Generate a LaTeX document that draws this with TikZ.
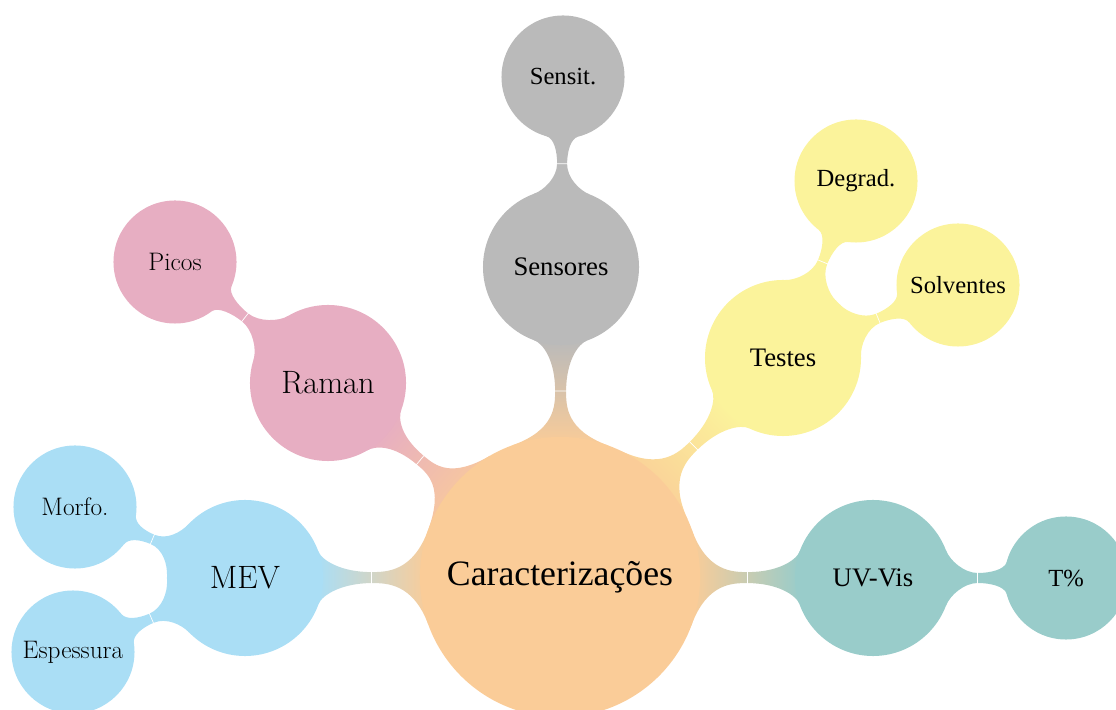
\documentclass[tikz,border=0pt]{standalone}
\usepackage{fontspec}
\setmainfont{Liberation Serif}
\usetikzlibrary{calc}
\pgfdeclarelayer{background}
\pgfsetlayers{background,main}
\definecolor{corange}{RGB}{250,204,152}
\definecolor{cgray}{RGB}{186,186,186}
\definecolor{cpink}{RGB}{231,174,194}
\definecolor{cyellow}{RGB}{251,243,155}
\definecolor{cblue}{RGB}{170,222,245}
\definecolor{cteal}{RGB}{153,204,202}
\newcommand{\lmfont}{\fontfamily{lmr}\selectfont}
% neck parameters (px units): radii, junction angles, control lengths, half width
\def\NrA{78}\def\NrB{61.5}\def\NtA{21}\def\NtB{15}\def\NkA{11}\def\NkB{8}\def\NqA{14}\def\NqB{12}\def\Nw{5}
\newcommand{\neck}[3]{%
  \path[#3] let \p1=(#1.center), \p2=(#2.center),
      \n1={atan2(\y2-\y1,\x2-\x1)},
      \n2={(\NrA*0.7113pt+veclen(\x2-\x1,\y2-\y1)-\NrB*0.7113pt)/2}
    in ([shift={(\n1+\NtA:\NrA)}]#1.center)
      .. controls +(\n1+\NtA-90:\NkA) and +(\n1+180:\NqA) ..
      ([shift={(\n1:\n2)},shift={(\n1+90:\Nw)}]#1.center)
      .. controls +(\n1:\NqB) and +(\n1-90-\NtB:\NkB) ..
      ([shift={(\n1+180-\NtB:\NrB)}]#2.center)
      -- ([shift={(\n1+180+\NtB:\NrB)}]#2.center)
      .. controls +(\n1+90+\NtB:\NkB) and +(\n1:\NqB) ..
      ([shift={(\n1:\n2)},shift={(\n1-90:\Nw)}]#1.center)
      .. controls +(\n1+180:\NqA) and +(\n1-\NtA+90:\NkA) ..
      ([shift={(\n1-\NtA:\NrA)}]#1.center) -- cycle;
  \draw[white, line width=0.5pt] let \p1=(#1.center), \p2=(#2.center),
      \n1={atan2(\y2-\y1,\x2-\x1)},
      \n2={(\NrA*0.7113pt+veclen(\x2-\x1,\y2-\y1)-\NrB*0.7113pt)/2}
    in ([shift={(\n1:\n2)},shift={(\n1+90:\Nw+2)}]#1.center)
      -- ([shift={(\n1:\n2)},shift={(\n1-90:\Nw+2)}]#1.center);
}
\begin{document}
\begin{tikzpicture}[x=0.025cm,y=0.025cm,
  bubble/.style={circle, inner sep=0pt, align=center, text=black},
  rootc/.style={bubble, minimum size=7cm, text width=6.4cm,
    font=\fontsize{25.4}{28}\selectfont},
  lvone/.style={bubble, minimum size=3.9cm, text width=3.4cm,
    font=\fontsize{19}{22}\selectfont},
  lvtwo/.style={bubble, minimum size=3.075cm, text width=2.6cm,
    font=\fontsize{17.5}{20}\selectfont},
  fone/.style={font=\lmfont\fontsize{23}{26}\selectfont},
  ftwo/.style={font=\lmfont\fontsize{18}{21}\selectfont},
]
\useasboundingbox (0,0) rectangle (1116,709);
\node[rootc, fill=corange] (root) at (560,132) {Caracterizações};
\node[lvone, fill=cgray] (sens) at (561,442) {Sensores};
\node[lvtwo, fill=cgray] (sensit) at (563,632) {Sensit.};
\node[lvone, fill=cpink, fone] (raman) at (328,326) {Raman};
\node[lvtwo, fill=cpink, ftwo] (picos) at (175,447) {Picos};
\node[lvone, fill=cyellow] (testes) at (783,351) {Testes};
\node[lvtwo, fill=cyellow] (degrad) at (856,528) {Degrad.};
\node[lvtwo, fill=cyellow] (solv) at (958,424) {Solventes};
\node[lvone, fill=cteal] (uv) at (873,131) {UV-Vis};
\node[lvtwo, fill=cteal] (tp) at (1066,131) {T\%};
\node[lvone, fill=cblue, fone] (mev) at (245,131) {MEV};
\node[lvtwo, fill=cblue, ftwo] (morfo) at (75,202) {Morfo.};
\node[lvtwo, fill=cblue, ftwo] (esp) at (73,57) {Espessura};
\begin{pgfonlayer}{background}
\neck{sens}{sensit}{fill=cgray}
\neck{raman}{picos}{fill=cpink}
\neck{testes}{degrad}{fill=cyellow}
\neck{testes}{solv}{fill=cyellow}
\neck{uv}{tp}{fill=cteal}
\neck{mev}{morfo}{fill=cblue}
\neck{mev}{esp}{fill=cblue}
\def\NrA{140}\def\NrB{78}\def\NtA{20}\def\NtB{20}\def\NkA{45}\def\NkB{10}\def\NqA{15}\def\NqB{30}\def\Nw{5.5}
\neck{root}{sens}{left color=corange, right color=cgray, shading angle=180}
\neck{root}{raman}{left color=corange, right color=cpink, shading angle=230}
\neck{root}{testes}{left color=corange, right color=cyellow, shading angle=134.5}
\neck{root}{uv}{left color=corange, right color=cteal, shading angle=90}
\neck{root}{mev}{left color=corange, right color=cblue, shading angle=270}
\end{pgfonlayer}
\end{tikzpicture}
\end{document}
